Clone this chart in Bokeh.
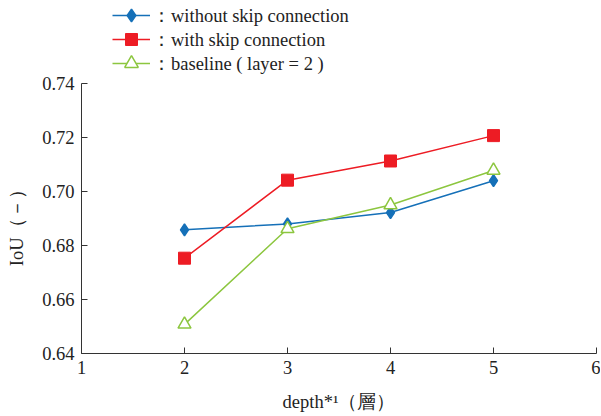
from bokeh.plotting import figure
from bokeh.models import Legend, LegendItem, Range1d, FixedTicker
from bokeh.embed import file_html
from bokeh.resources import INLINE

depth = [2, 3, 4, 5]
without_skip = [0.6858, 0.6880, 0.6922, 0.7040]
with_skip = [0.6753, 0.7042, 0.7113, 0.7207]
baseline = [0.6508, 0.6862, 0.6950, 0.7078]
series_labels = ["：without skip connection", "：with skip connection", "：baseline ( layer = 2 )"]
x_ticks = [1, 2, 3, 4, 5, 6]
y_ticks = [0.64, 0.66, 0.68, 0.70, 0.72, 0.74]
y_tick_labels = ["0.64", "0.66", "0.68", "0.70", "0.72", "0.74"]
x_title = "depth*¹（層）"
y_title = "IoU（－）"
y_min, y_max = 0.64, 0.74

BLUE = "#1570b8"
RED = "#ed1c24"
GREEN = "#8cc63f"
FONT = "Liberation Serif"
TXT = "#222222"
FS = "18.5px"

FRAME_TOP_PAD = 83   # px of empty frame above y_max (room for the legend)
FRAME_H = 353        # total frame height in px
y_top = y_min + (y_max - y_min) * FRAME_H / (FRAME_H - FRAME_TOP_PAD)

p = figure(width=600, height=416, output_backend="svg", toolbar_location=None,
           x_range=Range1d(1, 6), y_range=Range1d(y_min, y_top),
           min_border_left=81, min_border_top=0, min_border_right=4, min_border_bottom=63)
p.grid.visible = False
p.outline_line_color = None
p.background_fill_color = "white"
p.border_fill_color = "white"

for ax in (p.xaxis[0], p.yaxis[0]):
    ax.major_tick_in = 6
    ax.major_tick_out = 0
    ax.minor_tick_line_color = None
    ax.axis_line_color = "#333333"
    ax.major_tick_line_color = "#333333"
    ax.major_label_text_font = FONT
    ax.major_label_text_font_size = FS
    ax.major_label_text_color = TXT
    ax.axis_label_text_font = FONT
    ax.axis_label_text_font_size = FS
    ax.axis_label_text_font_style = "normal"
    ax.axis_label_text_color = TXT

p.xaxis.ticker = FixedTicker(ticks=x_ticks)
p.yaxis.ticker = FixedTicker(ticks=y_ticks)
p.yaxis.bounds = (y_min, y_max)
p.yaxis.major_label_overrides = {t: l for t, l in zip(y_ticks, y_tick_labels)}
p.yaxis.major_label_standoff = 7
p.xaxis.major_label_standoff = 7
p.xaxis.axis_label = x_title
# trailing em spaces shift the rotated title down to the centre of the drawn axis
p.yaxis.axis_label = y_title + "\u2003" * 5
p.xaxis.axis_label_standoff = 15
p.yaxis.axis_label_standoff = 12

l1 = p.line(depth, without_skip, line_color=BLUE, line_width=1.5)
m1 = p.scatter(depth, without_skip, marker="diamond", size=12, line_width=1.5,
               fill_color=BLUE, line_color=BLUE)
l2 = p.line(depth, with_skip, line_color=RED, line_width=1.5)
m2 = p.scatter(depth, with_skip, marker="square", size=12, fill_color=RED, line_color=RED)
l3 = p.line(depth, baseline, line_color=GREEN, line_width=1.5)
m3 = p.scatter(depth, baseline, marker="triangle", size=13, fill_color="white",
               line_color=GREEN, line_width=1.5)

# one legend per entry: each gets its own glyph box (marker size) while rows stay 24px apart
for label, rends, gh, y_loc in zip(series_labels, [[l1, m1], [l2, m2], [l3, m3]],
                                   [32, 30, 34], [322, 299, 273]):
    lg = Legend(items=[LegendItem(label=label, renderers=rends)], location=(31, y_loc))
    lg.background_fill_alpha = 0
    lg.border_line_color = None
    lg.label_text_font = FONT
    lg.label_text_font_size = FS
    lg.label_text_color = TXT
    lg.glyph_width = 38
    lg.glyph_height = gh
    lg.padding = 0
    lg.margin = 0
    lg.label_standoff = 2
    p.add_layout(lg, "center")

open("out.html", "w").write(file_html(p, INLINE))
